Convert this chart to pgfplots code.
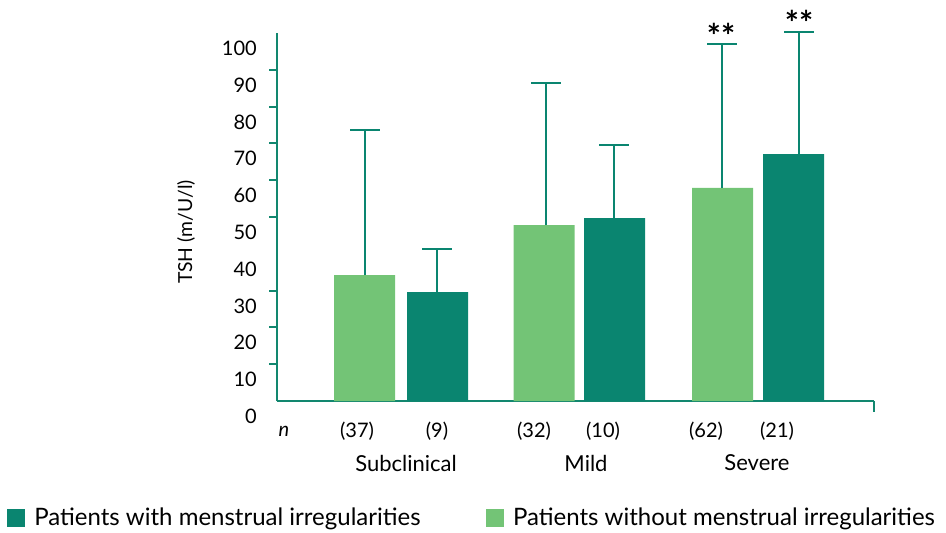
\documentclass[border=0pt]{standalone}
\usepackage{pgfplots}
\pgfplotsset{compat=1.18}
\usepackage{fontspec}
\setmainfont{Lato}
\definecolor{lgreen}{HTML}{73C476}
\definecolor{dgreen}{HTML}{0A8570}
\definecolor{axcol}{HTML}{12876F}
\begin{document}
\fontsize{15}{18}\selectfont
\begin{tikzpicture}
\path[use as bounding box] (0,0) rectangle (709.5pt,399pt);
\begin{axis}[
 at={(207.75pt,98.25pt)}, anchor=south west,
 scale only axis, width=447.75pt, height=276pt,
 xmin=277, xmax=874, ymin=0, ymax=100,
 axis x line=bottom, axis y line=left,
 axis line style={axcol, line width=1.5pt, -},
 xtick=\empty,
 ytick={0,10,...,100},
 major tick length=0pt,
 yticklabel style={anchor=east, xshift=-10pt, yshift=-11.5pt, font=\fontsize{15}{18}\selectfont},
 extra y ticks={10,20,30,50,60,70,80,90},
 extra y tick labels={},
 extra y tick style={major tick length=6pt, tick align=outside, tick style={axcol,line width=1.5pt}},
 /pgf/number format/assume math mode=true,
 ylabel={TSH (m/U/l)},
 ylabel style={at={(axis description cs:-0.1524,0.459)}, anchor=center, font=\fontsize{14.5}{17}\selectfont},
 clip=false,
 legend columns=2,
 legend style={at={(axis description cs:-0.452,-0.318)}, anchor=west, draw=none, fill=none, inner sep=0pt, outer sep=0pt, font=\fontsize{18}{20}\selectfont, /tikz/every even column/.append style={column sep=47pt}},
]
% bars
\addplot[ybar, bar width=61, bar shift=0pt, fill=lgreen, draw=none, forget plot]
  coordinates {(364.5,34.2) (544,47.8) (722.5,57.9)};
\addplot[ybar, bar width=61, bar shift=0pt, fill=dgreen, draw=none, forget plot]
  coordinates {(437.5,29.6) (614.5,49.7) (793.5,67.1)};
% error bars
\addplot[draw=none, mark=none, forget plot,
  error bars/.cd, y dir=plus, y explicit,
  error bar style={draw=dgreen, line width=1.3pt},
  error mark options={draw=dgreen, line width=1.3pt, mark size=11.25pt, rotate=90}]
  coordinates {(365,34.2) +- (0,39.4) (546,47.8) +- (0,38.6) (722,57.9) +- (0,39.1)
               (437,29.6) +- (0,11.7) (614,49.7) +- (0,19.9) (799,67.1) +- (0,33.2)};
\draw[axcol, line width=1.5pt] (axis cs:874,0) -- ([yshift=-8.25pt]axis cs:874,0);
\addlegendimage{legend image code/.code={\fill[dgreen] (0pt,-6.4pt) rectangle (12.75pt,6.4pt); \path (18pt,0pt);}}
\addlegendentry{Patients with menstrual irregularities}
\addlegendimage{legend image code/.code={\fill[lgreen] (0pt,-6.4pt) rectangle (12.75pt,6.4pt); \path (18pt,0pt);}}
\addlegendentry{Patients without menstrual irregularities}
\end{axis}
\begin{scope}[x=0.75pt, y=-0.75pt, shift={(0pt,399pt)}]
\node at (284,431) {\itshape n};
\node at (357,431) {(37)};
\node at (437,431) {(9)};
\node at (534,431) {(32)};
\node at (603,431) {(10)};
\node at (706,431) {(62)};
\node at (777,431) {(21)};
\node[font=\fontsize{16.5}{19}\selectfont] at (406,463) {Subclinical};
\node[font=\fontsize{16.5}{19}\selectfont] at (586,463) {Mild};
\node[font=\fontsize{16.5}{19}\selectfont] at (757,463) {Severe};
\node[font=\fontsize{25}{25}\selectfont\bfseries] at (721,36) {**};
\node[font=\fontsize{25}{25}\selectfont\bfseries] at (799,23) {**};
\end{scope}
\end{tikzpicture}
\end{document}
